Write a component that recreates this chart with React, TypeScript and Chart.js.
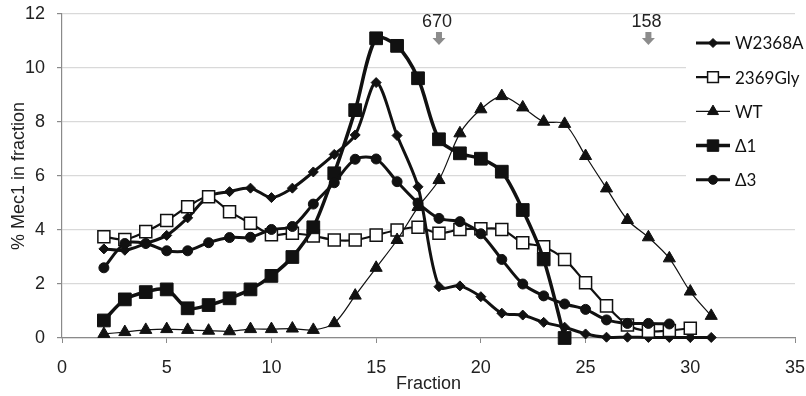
import React, { useEffect, useRef } from 'react';
import { Chart, registerables } from 'chart.js';

Chart.register(...registerables);

// ---- data ----
const fractions = [2, 3, 4, 5, 6, 7, 8, 9, 10, 11, 12, 13, 14, 15, 16, 17, 18, 19, 20, 21, 22, 23, 24, 25, 26, 27, 28, 29, 30, 31];
const w2368a = [3.3, 3.25, 3.5, 3.8, 4.45, 5.25, 5.42, 5.55, 5.2, 5.55, 6.15, 6.8, 7.52, 9.46, 7.5, 5.6, 1.9, 1.93, 1.53, 0.92, 0.85, 0.58, 0.4, 0.15, 0.03, 0.03, 0.02, 0.02, 0.02, 0.02];
const gly2369 = [3.75, 3.65, 3.94, 4.35, 4.86, 5.23, 4.68, 4.25, 3.82, 3.88, 3.78, 3.63, 3.63, 3.81, 4.0, 4.1, 3.88, 4.02, 4.05, 4.02, 3.53, 3.38, 2.91, 2.05, 1.19, 0.48, 0.25, 0.28, 0.36];
const wt = [0.15, 0.22, 0.3, 0.33, 0.3, 0.27, 0.25, 0.33, 0.33, 0.35, 0.3, 0.55, 1.57, 2.6, 3.63, 4.85, 5.85, 7.58, 8.47, 8.96, 8.54, 8.01, 7.93, 6.74, 5.54, 4.37, 3.73, 2.95, 1.72, 0.82];
const delta1 = [0.65, 1.43, 1.7, 1.8, 1.1, 1.22, 1.47, 1.8, 2.3, 3.0, 4.1, 6.1, 8.44, 11.1, 10.82, 9.62, 7.36, 6.84, 6.64, 6.16, 4.74, 2.91, 0.0];
const delta3 = [2.6, 3.5, 3.5, 3.23, 3.23, 3.53, 3.72, 3.73, 4.02, 4.13, 4.96, 5.75, 6.62, 6.63, 5.79, 5.0, 4.43, 4.31, 3.86, 2.91, 2.0, 1.56, 1.26, 1.06, 0.67, 0.54, 0.54, 0.52];
const seriesNames = ['W2368A', '2369Gly', 'WT', 'Δ1', 'Δ3'];
const markerFractions = [18, 28];
const markerLabels = ['670', '158'];
const xMin = 0, xMax = 35, xStep = 5;
const yMin = 0, yMax = 12, yStep = 2;
const xTitle = 'Fraction';
const yTitle = '% Mec1 in fraction';

const toPoints = (vals: number[]) => vals.map((v, i) => ({ x: fractions[i], y: v }));

const INK = '#111111';
const AXIS = '#8a8a8a';
const GRID = '#d9d9d9';

type Style = { pointStyle: string; radius: number; fill: string; borderWidth: number; pointBorderWidth: number };
const styles: Style[] = [
  { pointStyle: 'rectRot', radius: 5, fill: INK, borderWidth: 3, pointBorderWidth: 1 },
  { pointStyle: 'rect', radius: 8.5, fill: '#ffffff', borderWidth: 2.2, pointBorderWidth: 1.5 },
  { pointStyle: 'triangle', radius: 7, fill: INK, borderWidth: 1.2, pointBorderWidth: 1 },
  { pointStyle: 'rect', radius: 9, fill: INK, borderWidth: 3.5, pointBorderWidth: 1 },
  { pointStyle: 'circle', radius: 5, fill: INK, borderWidth: 3, pointBorderWidth: 1 },
];
const seriesValues = [w2368a, gly2369, wt, delta1, delta3];

function drawMarker(ctx: CanvasRenderingContext2D, s: Style, x: number, y: number, r: number) {
  ctx.beginPath();
  if (s.pointStyle === 'rectRot') {
    ctx.moveTo(x - r, y); ctx.lineTo(x, y - r); ctx.lineTo(x + r, y); ctx.lineTo(x, y + r); ctx.closePath();
  } else if (s.pointStyle === 'rect') {
    const h = Math.SQRT1_2 * r; ctx.rect(x - h, y - h, 2 * h, 2 * h);
  } else if (s.pointStyle === 'triangle') {
    ctx.moveTo(x, y - r); ctx.lineTo(x + 0.866 * r, y + 0.5 * r); ctx.lineTo(x - 0.866 * r, y + 0.5 * r); ctx.closePath();
  } else {
    ctx.arc(x, y, r, 0, Math.PI * 2);
  }
  ctx.fillStyle = s.fill; ctx.fill();
  ctx.lineWidth = s.pointBorderWidth; ctx.strokeStyle = INK; ctx.stroke();
}

const overlayPlugin = {
  id: 'overlay',
  beforeDatasetsDraw(chart: any) {
    const ctx = chart.ctx as CanvasRenderingContext2D;
    ctx.save();
    ctx.fillStyle = '#ffffff';
    ctx.fillRect(686, 20, 120, 182);
    ctx.restore();
  },
  afterDraw(chart: any) {
    const ctx = chart.ctx as CanvasRenderingContext2D;
    const xs = chart.scales.x, ys = chart.scales.y;
    ctx.save();
    // size markers
    markerFractions.forEach((f, i) => {
      const x = xs.getPixelForValue(f);
      const top = ys.getPixelForValue(yMax);
      ctx.font = '18px "Liberation Sans", Arial, sans-serif';
      ctx.fillStyle = '#222';
      ctx.textAlign = 'center';
      ctx.textBaseline = 'middle';
      ctx.fillText(markerLabels[i], x - 2, top + 8);
      ctx.fillStyle = '#8c8c8c';
      ctx.fillRect(x - 3, top + 18, 6, 7);
      ctx.beginPath();
      ctx.moveTo(x - 6.5, top + 24);
      ctx.lineTo(x + 6.5, top + 24);
      ctx.lineTo(x, top + 31);
      ctx.closePath();
      ctx.fill();
    });
    // legend
    seriesNames.forEach((name, i) => {
      const s = styles[i];
      const y = 43 + i * 34.2;
      ctx.beginPath();
      ctx.moveTo(696, y); ctx.lineTo(730, y);
      ctx.lineWidth = s.borderWidth; ctx.strokeStyle = INK; ctx.stroke();
      drawMarker(ctx, s, 713, y, s.radius * 0.9);
      ctx.font = '17px Lato, "Open Sans", sans-serif';
      ctx.fillStyle = '#111';
      ctx.textAlign = 'left';
      ctx.textBaseline = 'middle';
      ctx.fillText(name, 735, y + 1);
    });
    ctx.restore();
  },
};

export default function App() {
  const ref = useRef<HTMLCanvasElement>(null);
  useEffect(() => {
    if (!ref.current) return;
    const datasets = seriesNames.map((name, i) => ({
      label: name,
      data: toPoints(seriesValues[i]),
      borderColor: INK,
      borderWidth: styles[i].borderWidth,
      pointStyle: styles[i].pointStyle,
      pointRadius: styles[i].radius,
      pointBackgroundColor: styles[i].fill,
      pointBorderColor: INK,
      pointBorderWidth: styles[i].pointBorderWidth,
      tension: 0.3,
      fill: false,
      clip: false as any,
      order: seriesNames.length - i,
    }));
    const chart = new Chart(ref.current, {
      type: 'line',
      data: { datasets },
      options: {
        animation: false,
        responsive: false,
        events: [],
        layout: { padding: { left: 0, right: 11, top: 14, bottom: 0 } },
        plugins: { legend: { display: false }, tooltip: { enabled: false } },
        scales: {
          x: {
            type: 'linear',
            min: xMin, max: xMax,
            ticks: { stepSize: xStep, color: '#222', padding: 14, font: { family: '"Liberation Sans", Arial', size: 18 } },
            grid: { drawOnChartArea: false, drawTicks: true, tickLength: 5, tickColor: AXIS },
            border: { color: AXIS, width: 1.2 },
            title: { display: true, text: xTitle, color: '#222', font: { family: '"Liberation Sans", Arial', size: 18 }, padding: { top: 0, bottom: 1 } },
            afterFit: (s: any) => { s.height = 58; s.paddingLeft = 0; s.paddingRight = 0; },
          },
          y: {
            min: yMin, max: yMax,
            ticks: { stepSize: yStep, color: '#222', padding: 12, font: { family: '"Liberation Sans", Arial', size: 18 } },
            grid: { color: GRID, lineWidth: 1.2, drawTicks: true, tickLength: 5, tickColor: AXIS },
            border: { color: AXIS, width: 1.2 },
            title: { display: true, text: yTitle, color: '#222', font: { family: '"Liberation Sans", Arial', size: 18 }, padding: { top: 8, bottom: 0 } },
            afterFit: (s: any) => { s.width = 62; s.paddingTop = 0; s.paddingBottom = 0; },
          },
        },
      } as any,
      plugins: [overlayPlugin],
    });
    return () => chart.destroy();
  }, []);
  return (
    <div style={{ position: 'fixed', left: 0, top: 0, width: 806, height: 396, background: '#fff' }}>
      <canvas ref={ref} width={806} height={396} style={{ display: 'block' }} />
    </div>
  );
}
